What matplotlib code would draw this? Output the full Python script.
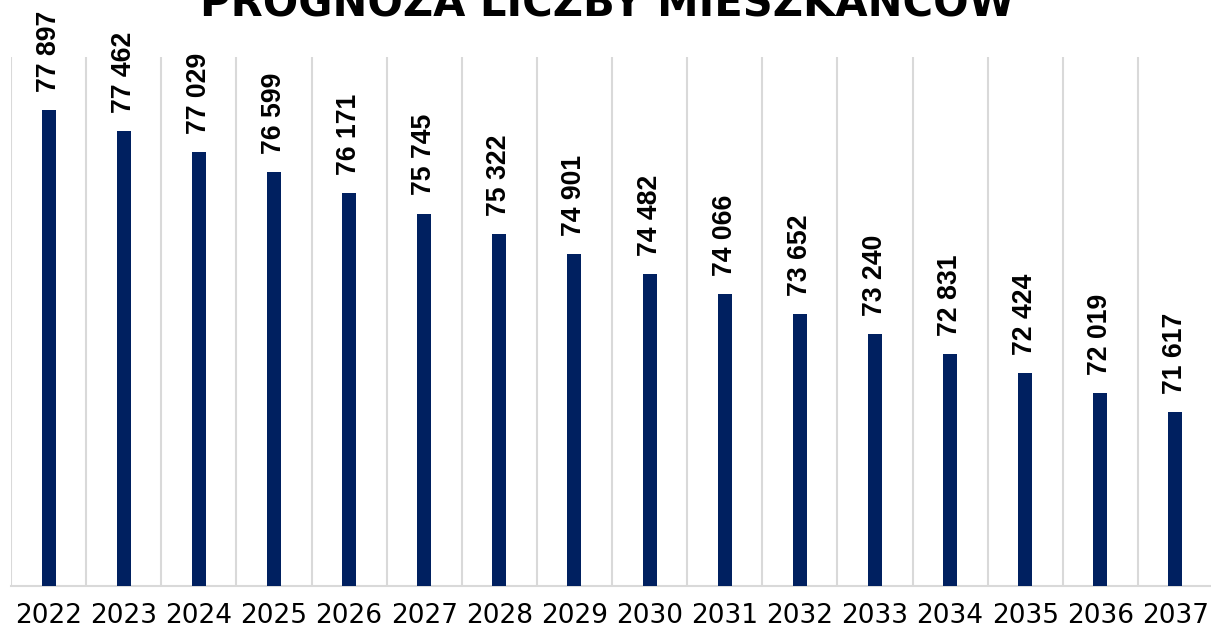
import matplotlib
matplotlib.use("Agg")
import matplotlib.pyplot as plt
from matplotlib import font_manager

# data
years = ["2022", "2023", "2024", "2025", "2026", "2027", "2028", "2029",
         "2030", "2031", "2032", "2033", "2034", "2035", "2036", "2037"]
population = [77897, 77462, 77029, 76599, 76171, 75745, 75322, 74901,
              74482, 74066, 73652, 73240, 72831, 72424, 72019, 71617]
title = "PROGNOZA LICZBY MIESZKAŃCÓW"


def liberation(bold):
    # pick the regular-width Liberation Sans file, not the Narrow one
    for f in font_manager.fontManager.ttflist:
        if f.name == "Liberation Sans" and "Narrow" not in f.fname:
            if (f.weight == 700) == bold and f.style == "normal":
                return font_manager.FontProperties(fname=f.fname)
    return font_manager.FontProperties(family="DejaVu Sans",
                                       weight="bold" if bold else "normal")


W, H = 1211, 630
fig = plt.figure(figsize=(W / 100, H / 100), dpi=100)
ax = fig.add_axes([11 / W, 44 / H, 1202 / W, 529 / H])

x = list(range(len(years)))
ax.bar(x, population, width=0.186, color="#002060", zorder=3)

ax.set_xlim(-0.5, len(years) - 0.5)
ax.set_ylim(68000, 79000)

# vertical separators between categories
for b in range(len(years) + 1):
    ax.axvline(b - 0.5, color="#d9d9d9", lw=1.5, zorder=1)

for s in ["top", "right", "left"]:
    ax.spines[s].set_visible(False)
ax.spines["bottom"].set_color("#d9d9d9")
ax.spines["bottom"].set_linewidth(1.5)
ax.set_yticks([])
ax.set_xticks(x)
ax.set_xticklabels(years, fontsize=19, family="DejaVu Sans", color="black")
ax.tick_params(axis="x", length=0, pad=12.5)

# value labels
lab_font = liberation(True)
lab_font.set_size(19.2)
for xi, v in zip(x, population):
    lbl = f"{v:,}".replace(",", " ")
    ax.annotate(lbl, (xi, v), xytext=(0, 13), textcoords="offset points",
                rotation=90, ha="center", va="bottom",
                fontproperties=lab_font, color="black")

fig.text(607.5 / W, 1 - 15 / H, title, ha="center", va="baseline",
         fontsize=30, fontweight="bold", family="DejaVu Sans", color="black")

fig.savefig("out.png", dpi=100)
